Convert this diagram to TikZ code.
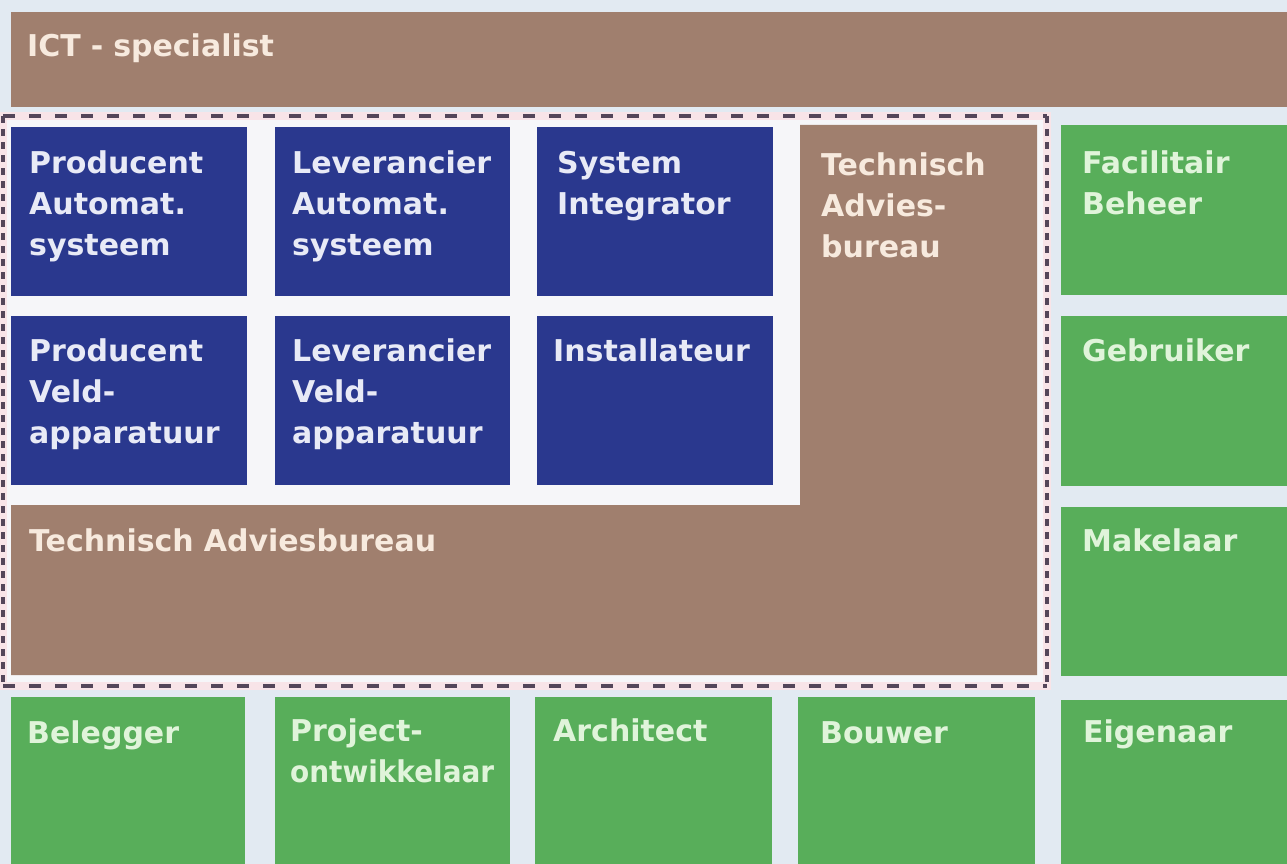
\documentclass[tikz,border=0pt]{standalone}
\usepackage{fontspec}
\setmainfont{DejaVu Sans}
\definecolor{bg}{RGB}{226,234,242}
\definecolor{inner}{RGB}{246,246,249}
\definecolor{brownc}{RGB}{160,127,110}
\definecolor{bluec}{RGB}{42,56,142}
\definecolor{greenc}{RGB}{88,174,90}
\definecolor{txtbrown}{RGB}{247,234,222}
\definecolor{txtblue}{RGB}{232,234,246}
\definecolor{txtgreen}{RGB}{224,244,218}
\definecolor{dashpink}{RGB}{248,228,232}
\definecolor{dashdark}{RGB}{84,70,90}
\tikzset{
  box/.style={anchor=north west, inner sep=0pt, outer sep=0pt, draw=none},
  bluebox/.style={box, fill=bluec},
  greenbox/.style={box, fill=greenc},
  lbl/.style={anchor=base west, inner sep=0pt, text width=700pt, align=left,
    font=\fontsize{30}{41}\selectfont\bfseries},
  onblue/.style={lbl, text=txtblue},
  ongreen/.style={lbl, text=txtgreen},
  onbrown/.style={lbl, text=txtbrown},
  hdash/.style={dashdark, line width=4pt, dash pattern=on 12pt off 14pt},
  vdash/.style={dashdark, line width=4pt, dash pattern=on 7pt off 6pt},
}
\begin{document}
\begin{tikzpicture}[x=1pt,y=-1pt]
\useasboundingbox (0,0) rectangle (1287,864);
\fill[bg] (0,0) rectangle (1287,864);
% top bar
\node[box, fill=brownc, minimum width=1276pt, minimum height=95pt] (ictbox) at (11,12) {};
\node[onbrown] (ict) at (27,57) {ICT - specialist};
% dashed region interior
\fill[inner] (3,116) rectangle (1047,686);
% brown L shape
\fill[brownc] (11,505) -- (800,505) -- (800,125) -- (1037,125) -- (1037,675) -- (11,675) -- cycle;
\node[onbrown] (tab) at (29,551) {Technisch Adviesbureau};
\node[onbrown] (tab2) at (821,175) {Technisch\\Advies-\\bureau};
% blue boxes
\node[bluebox, minimum width=236pt, minimum height=169pt] (b1) at (11,127) {};
\node[bluebox, minimum width=235pt, minimum height=169pt] (b2) at (275,127) {};
\node[bluebox, minimum width=236pt, minimum height=169pt] (b3) at (537,127) {};
\node[bluebox, minimum width=236pt, minimum height=169pt] (b4) at (11,316) {};
\node[bluebox, minimum width=235pt, minimum height=169pt] (b5) at (275,316) {};
\node[bluebox, minimum width=236pt, minimum height=169pt] (b6) at (537,316) {};
\node[onblue] (t1) at (29,173) {Producent\\Automat.\\systeem};
\node[onblue] (t2) at (292,173) {Leverancier\\Automat.\\systeem};
\node[onblue] (t3) at (557,173) {System\\Integrator};
\node[onblue] (t4) at (29,361) {Producent\\Veld-\\apparatuur};
\node[onblue] (t5) at (292,361) {Leverancier\\Veld-\\apparatuur};
\node[onblue] (t6) at (553,361) {Installateur};
% dashed border
\draw[dashpink, line width=8pt] (3,116) rectangle (1047,686);
\draw[hdash] (3,116) -- (1047,116);
\draw[hdash] (3,686) -- (1047,686);
\draw[vdash] (3,116) -- (3,686);
\draw[vdash] (1047,116) -- (1047,686);
% green right column
\node[greenbox, minimum width=226pt, minimum height=170pt] (g1) at (1061,125) {};
\node[greenbox, minimum width=226pt, minimum height=170pt] (g2) at (1061,316) {};
\node[greenbox, minimum width=226pt, minimum height=169pt] (g3) at (1061,507) {};
\node[greenbox, minimum width=226pt, minimum height=164pt] (g4) at (1061,700) {};
\node[ongreen] (tg1) at (1082,173) {Facilitair\\Beheer};
\node[ongreen] (tg2) at (1082,361) {Gebruiker};
\node[ongreen] (tg3) at (1082,551) {Makelaar};
\node[ongreen] (tg4) at (1083,742) {Eigenaar};
% green bottom row
\node[greenbox, minimum width=234pt, minimum height=167pt] (h1) at (11,697) {};
\node[greenbox, minimum width=235pt, minimum height=167pt] (h2) at (275,697) {};
\node[greenbox, minimum width=237pt, minimum height=167pt] (h3) at (535,697) {};
\node[greenbox, minimum width=237pt, minimum height=167pt] (h4) at (798,697) {};
\node[ongreen] (th1) at (27,743) {Belegger};
\node[ongreen] (th2) at (290,741) {Project-\\\scalebox{0.93}[1]{ontwikkelaar}};
\node[ongreen] (th3) at (553,741) {Architect};
\node[ongreen] (th4) at (820,743) {Bouwer};
\end{tikzpicture}
\end{document}
